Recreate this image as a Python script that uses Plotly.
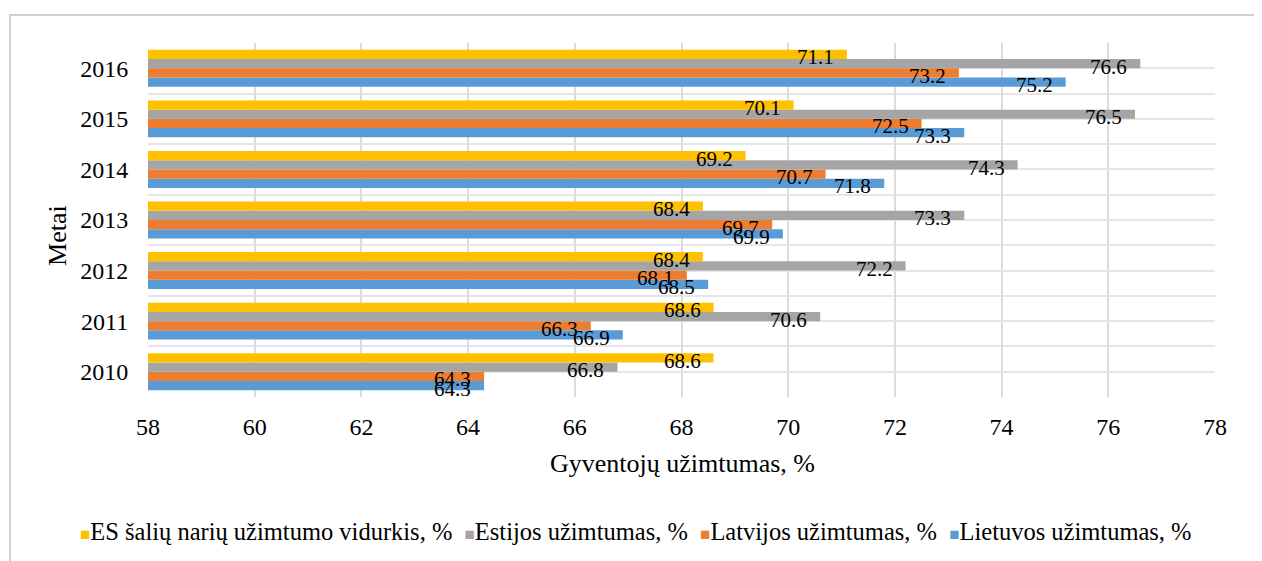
import plotly.graph_objects as go

years = [2010, 2011, 2012, 2013, 2014, 2015, 2016]

lietuva = [64.3, 66.9, 68.5, 69.9, 71.8, 73.3, 75.2]
latvija = [64.3, 66.3, 68.1, 69.7, 70.7, 72.5, 73.2]
estija = [66.8, 70.6, 72.2, 73.3, 74.3, 76.5, 76.6]
es_vidurkis = [68.6, 68.6, 68.4, 68.4, 69.2, 70.1, 71.1]

# bottom to top inside each year group
series = [
    ("Lietuvos užimtumas, %", lietuva, "#5B9BD5"),
    ("Latvijos užimtumas, %", latvija, "#ED7D31"),
    ("Estijos užimtumas, %", estija, "#A5A5A5"),
    ("ES šalių narių užimtumo vidurkis, %", es_vidurkis, "#FFC000"),
]

FONT = "Liberation Serif, Times New Roman, serif"
BARGAP = 0.27
bar_w = (1 - BARGAP) / len(series)

fig = go.Figure()
annotations = []
for i, (name, values, color) in enumerate(series):
    fig.add_trace(
        go.Bar(
            name=name,
            y=years,
            x=values,
            orientation="h",
            marker_color=color,
            marker_line_width=0,
            hovertemplate=f"%{{y}}: %{{x}}<extra>{name}</extra>",
        )
    )
    offset = -(1 - BARGAP) / 2 + bar_w * (i + 0.5)
    for yr, v in zip(years, values):
        annotations.append(
            dict(
                x=v,
                y=yr + offset,
                xref="x",
                yref="y",
                text=f"{v:.1f}",
                showarrow=False,
                xanchor="right",
                yanchor="middle",
                xshift=-11,
                yshift=-3,
                font=dict(family=FONT, size=21, color="#000000"),
            )
        )

# legend drawn as one line of text, items in reference order (top bar first)
legend_text = "  ".join(
    f'<span style="color:{color};font-size:17px">■</span>{name}'
    for name, _, color in reversed(series)
)
annotations.append(
    dict(
        x=0.457,
        y=-0.381,
        xref="paper",
        yref="paper",
        text=legend_text,
        showarrow=False,
        xanchor="center",
        yanchor="middle",
        font=dict(family=FONT, size=24.5, color="#000000"),
    )
)
annotations.append(
    dict(
        x=0.501,
        y=-0.189,
        xref="paper",
        yref="paper",
        text="Gyventojų užimtumas, %",
        showarrow=False,
        xanchor="center",
        yanchor="middle",
        font=dict(family=FONT, size=26, color="#000000"),
    )
)
annotations.append(
    dict(
        x=-0.0843,
        y=0.455,
        xref="paper",
        yref="paper",
        text="Metai",
        textangle=-90,
        showarrow=False,
        xanchor="center",
        yanchor="middle",
        font=dict(family=FONT, size=26, color="#000000"),
    )
)

# page body adds an 8px margin, so the figure is 8px smaller each way
fig.update_layout(
    barmode="group",
    bargap=BARGAP,
    bargroupgap=0,
    width=1254,
    height=553,
    margin=dict(l=140, r=47, t=35, b=164, autoexpand=False),
    paper_bgcolor="white",
    plot_bgcolor="white",
    font=dict(family=FONT, size=22, color="#000000"),
    showlegend=False,
    annotations=annotations,
    shapes=[
        dict(
            type="rect",
            xref="paper",
            yref="paper",
            x0=-0.1293,
            x1=1.0375,
            y0=-0.49,
            y1=1.079,
            line=dict(color="#D0D0D0", width=2),
            layer="below",
        )
    ],
)

fig.update_xaxes(
    range=[58, 78],
    dtick=2,
    tick0=58,
    showgrid=True,
    gridcolor="#DCDCDC",
    gridwidth=2,
    zeroline=False,
    showline=False,
    ticks="outside",
    ticklen=8,
    tickcolor="rgba(0,0,0,0)",
    tickfont=dict(size=24),
    automargin=False,
)

fig.update_yaxes(
    range=[2009.5, 2016.5],
    tickvals=years,
    ticktext=[str(y) for y in years],
    showgrid=True,
    gridcolor="#E6E6E6",
    gridwidth=2,
    minor=dict(
        tick0=2009.5,
        dtick=1,
        showgrid=True,
        gridcolor="#E6E6E6",
        gridwidth=2,
    ),
    zeroline=False,
    showline=False,
    ticks="outside",
    ticklen=14,
    tickcolor="rgba(0,0,0,0)",
    tickfont=dict(size=24),
    automargin=False,
)

fig.write_html("out.html")
